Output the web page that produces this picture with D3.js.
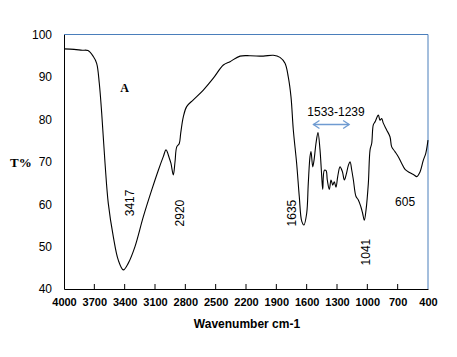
<!DOCTYPE html>
<html>
<head>
<meta charset="utf-8">
<script src="https://cdn.jsdelivr.net/npm/d3@7"></script>
<style>
  body { margin: 0; background: #fff; }
  svg { display: block; }
</style>
</head>
<body>
<div id="chart"></div>
<script>
// FTIR spectrum: wavenumber (cm-1) and transmittance (%)
const wavenumber = [
  4000, 3900, 3820, 3763, 3710, 3677, 3651, 3627, 3594, 3562, 3512, 3463, 3413,
  3364, 3298, 3216, 3133, 3067, 3018, 2991, 2958, 2942, 2919, 2902, 2885, 2860,
  2846, 2820, 2787, 2721, 2622, 2523, 2424, 2358, 2259, 2160, 2029, 1930, 1864,
  1814, 1782, 1755, 1732, 1699, 1673, 1649, 1627, 1600, 1584, 1567, 1557, 1540,
  1527, 1508, 1488, 1468, 1451, 1441, 1425, 1408, 1396, 1376, 1359, 1342, 1327,
  1310, 1293, 1270, 1247, 1227, 1210, 1187, 1171, 1154, 1138, 1112, 1089, 1064,
  1046, 1030, 1013, 990, 973, 957, 941, 924, 891, 875, 858, 842, 809, 776, 759,
  727, 694, 660, 627, 578, 538, 511, 479, 446, 422, 400
];
const transmittance = [
  96.6, 96.5, 96.3, 96.2, 94.8, 93.2, 88.5, 81.4, 69.6, 60.2, 52.3, 46.8, 44.5,
  46.1, 50.0, 57.0, 63.3, 68.0, 71.2, 72.8, 70.8, 69.6, 66.9, 70.0, 73.5, 74.3,
  76.7, 80.6, 83.0, 84.6, 86.9, 89.7, 92.8, 93.6, 94.9, 95.0, 94.9, 95.1, 94.6,
  93.2, 90.0, 85.3, 77.5, 69.6, 61.8, 56.0, 55.1, 57.8, 64.9, 71.2, 72.4, 68.8,
  70.4, 74.3, 76.9, 72.8, 66.5, 63.5, 68.0, 67.9, 65.7, 63.5, 65.7, 64.5, 65.3,
  64.0, 66.5, 68.8, 67.7, 65.7, 66.9, 69.2, 70.0, 68.0, 65.7, 61.8, 61.0, 59.4,
  57.8, 56.2, 58.6, 64.9, 72.8, 74.3, 78.7, 79.4, 81.0, 79.8, 80.2, 79.1, 77.5,
  75.9, 73.5, 72.4, 71.2, 69.6, 68.2, 67.4, 66.9, 66.5, 67.6, 70.4, 72.0, 75.1
];

// axis ticks
const xTicks = [4000, 3700, 3400, 3100, 2800, 2500, 2200, 1900, 1600, 1300, 1000, 700, 400];
const yTicks = [40, 50, 60, 70, 80, 90, 100];

// peak labels (rotated), positioned at their centre
const peakLabels = ['3417', '2920', '1635', '1041'];
const peakPos = [3347, 2853, 1745, 1013];
const peakY = [60.3, 57.9, 57.9, 48.7];

const width = 457, height = 357;
const margin = {top: 34.5, right: 29, bottom: 68, left: 64};

const svg = d3.select('#chart').append('svg')
  .attr('width', width)
  .attr('height', height);

const x = d3.scaleLinear().domain([4000, 400]).range([margin.left, width - margin.right]);
const y = d3.scaleLinear().domain([40, 100]).range([height - margin.bottom, margin.top]);

const font = "'Liberation Sans', Arial, sans-serif";

// plot frame: blue top/right, black left/bottom
svg.append('line')
  .attr('x1', x(4000)).attr('x2', x(400)).attr('y1', y(100)).attr('y2', y(100))
  .attr('stroke', '#4a7ebb').attr('stroke-width', 1);
svg.append('line')
  .attr('x1', x(400)).attr('x2', x(400)).attr('y1', y(100)).attr('y2', y(40))
  .attr('stroke', '#4a7ebb').attr('stroke-width', 1);

// x axis, ticks pointing inwards
const xAxis = d3.axisBottom(x).tickValues(xTicks).tickFormat(d3.format('d')).tickSize(0).tickPadding(9);
const gx = svg.append('g')
  .attr('transform', `translate(0,${y(40)})`)
  .call(xAxis);
gx.select('.domain').attr('stroke', '#000');
gx.selectAll('text')
  .attr('font-family', font).attr('font-size', 11).attr('font-weight', 'bold').attr('fill', '#000');
svg.append('g').selectAll('line')
  .data(xTicks.slice(1, -1))
  .join('line')
  .attr('x1', d => x(d)).attr('x2', d => x(d))
  .attr('y1', y(40)).attr('y2', y(40) - 5)
  .attr('stroke', '#000');

// y axis, labels only
const yAxis = d3.axisLeft(y).tickValues(yTicks).tickSize(0).tickPadding(12);
const gy = svg.append('g')
  .attr('transform', `translate(${x(4000)},0)`)
  .call(yAxis);
gy.select('.domain').attr('stroke', '#000');
gy.selectAll('text')
  .attr('font-family', font).attr('font-size', 12).attr('fill', '#000');

// axis titles
svg.append('text')
  .attr('x', 247).attr('y', 328)
  .attr('text-anchor', 'middle')
  .attr('font-family', font).attr('font-size', 12).attr('font-weight', 'bold')
  .text('Wavenumber cm-1');

svg.append('text')
  .attr('x', 10).attr('y', 167)
  .attr('font-family', "'Liberation Serif', 'Times New Roman', serif")
  .attr('font-size', 13).attr('font-weight', 'bold')
  .text('T%');

// spectrum
const pts = wavenumber.map((w, i) => [w, transmittance[i]]);
const line = d3.line()
  .x(d => x(d[0]))
  .y(d => y(d[1]))
  .curve(d3.curveCatmullRom.alpha(0.5));

svg.append('path')
  .datum(pts)
  .attr('fill', 'none')
  .attr('stroke', '#000')
  .attr('stroke-width', 1.1)
  .attr('d', line);

// sample label
svg.append('text')
  .attr('x', 124.5).attr('y', 92)
  .attr('text-anchor', 'middle')
  .attr('font-family', "'Liberation Serif', 'Times New Roman', serif")
  .attr('font-size', 12).attr('font-weight', 'bold')
  .text('A');

// rotated peak labels
svg.append('g').selectAll('text')
  .data(peakLabels)
  .join('text')
  .attr('transform', (d, i) => `translate(${x(peakPos[i])},${y(peakY[i])}) rotate(-90)`)
  .attr('text-anchor', 'middle')
  .attr('dy', '0.35em')
  .attr('font-family', font).attr('font-size', 12)
  .text(d => d);

svg.append('text')
  .attr('x', x(627)).attr('y', 205.5)
  .attr('text-anchor', 'middle')
  .attr('font-family', font).attr('font-size', 12)
  .text('605');

svg.append('text')
  .attr('x', 336).attr('y', 115.5)
  .attr('text-anchor', 'middle')
  .attr('font-family', font).attr('font-size', 12)
  .text('1533-1239');

// double-headed arrow over the 1533-1239 region
const arrowColor = '#6f9bd1';
const ax1 = x(1533), ax2 = x(1180), ay = 124.5;
svg.append('line')
  .attr('x1', ax1).attr('x2', ax2).attr('y1', ay).attr('y2', ay)
  .attr('stroke', arrowColor).attr('stroke-width', 1.3);
svg.append('path')
  .attr('d', `M${ax1 + 6},${ay - 4}L${ax1},${ay}L${ax1 + 6},${ay + 4}M${ax2 - 6},${ay - 4}L${ax2},${ay}L${ax2 - 6},${ay + 4}`)
  .attr('fill', 'none').attr('stroke', arrowColor).attr('stroke-width', 1.3);
</script>
</body>
</html>
